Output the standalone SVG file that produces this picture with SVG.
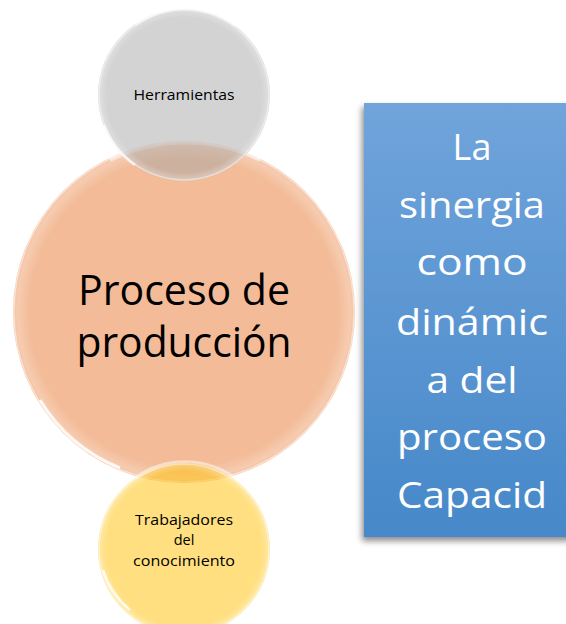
<svg xmlns="http://www.w3.org/2000/svg" width="566" height="624" viewBox="0 0 566 624">
<defs>
<style>
.t{font-family:"Open Sans","Noto Sans","Liberation Sans",sans-serif;text-anchor:middle}
.dk{fill:#000}
.wh{fill:#fff}
.rim{fill:none;stroke:#fff;stroke-opacity:0.5;stroke-width:1.5}
.gl{fill:url(#glass)}
</style>
<linearGradient id="blue" x1="0" y1="0" x2="0" y2="1">
<stop offset="0" stop-color="#70a4db"/>
<stop offset="1" stop-color="#4688c9"/>
</linearGradient>
<radialGradient id="glass" cx="0.5" cy="0.5" r="0.5">
<stop offset="0.9" stop-color="#fff" stop-opacity="0"/>
<stop offset="0.975" stop-color="#fff" stop-opacity="0.25"/>
<stop offset="1" stop-color="#fff" stop-opacity="0.05"/>
</radialGradient>
<filter id="sh" x="-20%" y="-10%" width="140%" height="125%">
<feDropShadow dx="-2" dy="4" stdDeviation="3" flood-color="#000" flood-opacity="0.45"/>
</filter>
</defs>
<g id="node-proceso">
<circle cx="184" cy="312" r="171" fill="#e7772f" fill-opacity="0.5"/>
<circle cx="184" cy="312" r="171" class="gl"/>
<circle cx="184" cy="312" r="170" class="rim"/>
<path d="M40 400 A169 169 0 0 0 120 468" fill="none" stroke="#fff" stroke-opacity="0.85" stroke-width="3"/>
<path d="M110 160 A169 169 0 0 1 260 160" fill="none" stroke="#fff" stroke-opacity="0.5" stroke-width="4"/>
<text class="t dk" x="184" y="305" font-size="42" textLength="212" lengthAdjust="spacingAndGlyphs">Proceso de</text>
<text class="t dk" x="184" y="357" font-size="42" textLength="215" lengthAdjust="spacingAndGlyphs">producción</text>
</g>
<g id="node-herramientas">
<circle cx="184" cy="95" r="86" fill="#a8a8a8" fill-opacity="0.5"/>
<circle cx="184" cy="95" r="86" class="gl"/>
<circle cx="184" cy="95" r="85" class="rim"/>
<path d="M135 25 A85 85 0 0 1 235 25" fill="none" stroke="#fff" stroke-opacity="0.6" stroke-width="3"/>
<path d="M104 125 A85 85 0 0 0 135 165" fill="none" stroke="#fff" stroke-opacity="0.7" stroke-width="2.5"/>
<text class="t dk" x="184" y="100" font-size="14.5" textLength="101" lengthAdjust="spacingAndGlyphs">Herramientas</text>
</g>
<g id="node-trabajadores">
<circle cx="184" cy="549" r="86" fill="#ffc000" fill-opacity="0.5"/>
<circle cx="184" cy="549" r="86" class="gl"/>
<circle cx="184" cy="549" r="85" class="rim"/>
<path d="M135 478 A85 85 0 0 1 235 478" fill="none" stroke="#fff" stroke-opacity="0.5" stroke-width="3"/>
<path d="M103 570 A85 85 0 0 0 130 610" fill="none" stroke="#fff" stroke-opacity="0.8" stroke-width="2.5"/>
<text class="t dk" x="184" y="525" font-size="14.5" textLength="98" lengthAdjust="spacingAndGlyphs">Trabajadores</text>
<text class="t dk" x="184" y="545" font-size="14.5">del</text>
<text class="t dk" x="184" y="566" font-size="14.5" textLength="102" lengthAdjust="spacingAndGlyphs">conocimiento</text>
</g>
<g id="connectors"></g>
<g id="node-sinergia">
<rect x="364" y="103" width="222" height="434" fill="url(#blue)" filter="url(#sh)"/>
<text class="t wh" x="472" y="160" font-size="36">La</text>
<text class="t wh" x="472" y="218" font-size="36" textLength="146" lengthAdjust="spacingAndGlyphs">sinergia</text>
<text class="t wh" x="472" y="275" font-size="36" textLength="111" lengthAdjust="spacingAndGlyphs">como</text>
<text class="t wh" x="472" y="335" font-size="36" textLength="152" lengthAdjust="spacingAndGlyphs">dinámic</text>
<text class="t wh" x="472" y="393" font-size="36" textLength="91" lengthAdjust="spacingAndGlyphs">a del</text>
<text class="t wh" x="472" y="450" font-size="36" textLength="150" lengthAdjust="spacingAndGlyphs">proceso</text>
<text class="t wh" x="472" y="508" font-size="36" textLength="150" lengthAdjust="spacingAndGlyphs">Capacid</text>
</g>
</svg>
